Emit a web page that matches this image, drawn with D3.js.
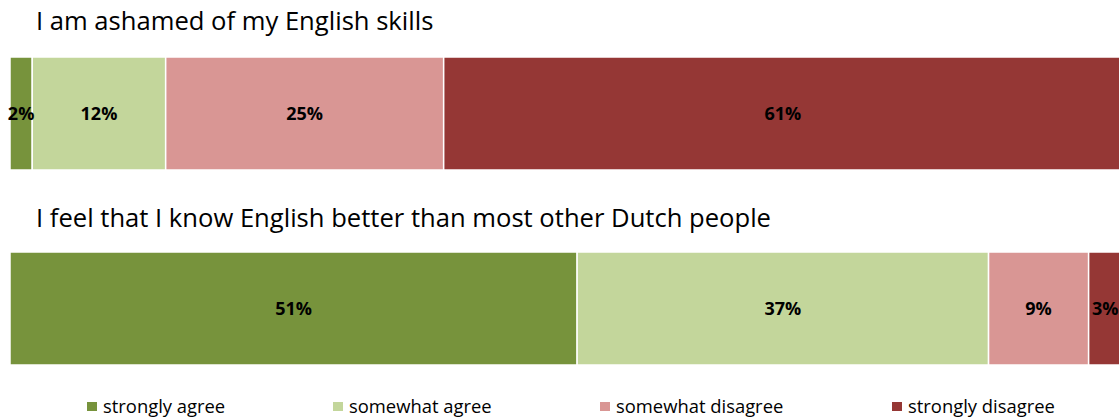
<!DOCTYPE html>
<html>
<head>
<meta charset="utf-8">
<script src="https://cdn.jsdelivr.net/npm/d3@7"></script>
<style>
  html, body { margin: 0; padding: 0; background: #fff; }
  svg { display: block; }
</style>
</head>
<body>
<svg id="chart" width="1119" height="419"></svg>
<script>
// Survey statements and answer shares (percent)
const statements = [
  "I am ashamed of my English skills",
  "I feel that I know English better than most other Dutch people"
];
const answers = ["strongly agree", "somewhat agree", "somewhat disagree", "strongly disagree"];
const ashamedValues = [2, 12, 25, 61];
const betterValues = [51, 37, 9, 3];
const colors = ["#77933C", "#C3D69B", "#D99694", "#953735"];

const seriesValues = [ashamedValues, betterValues];

const svg = d3.select("#chart");
const fontFamily = "'Open Sans', 'Noto Sans', sans-serif";

const x = d3.scaleLinear().domain([0, 100]).range([10, 1122]);
const panelTop = [57, 252];
const barHeight = 113;
const titleBaseline = [30, 227];

const color = d3.scaleOrdinal().domain(answers).range(colors);

seriesValues.forEach((vals, i) => {
  const g = svg.append("g");
  g.append("text")
    .attr("x", 36)
    .attr("y", titleBaseline[i])
    .attr("font-family", fontFamily)
    .attr("font-size", 25.6)
    .attr("fill", "#000")
    .text(statements[i]);

  let acc = 0;
  const segs = vals.map((v, k) => {
    const s = { key: answers[k], start: acc, value: v };
    acc += v;
    return s;
  });

  g.selectAll("rect.seg")
    .data(segs)
    .enter().append("rect")
    .attr("class", "seg")
    .attr("x", d => x(d.start))
    .attr("y", panelTop[i])
    .attr("width", d => x(d.start + d.value) - x(d.start))
    .attr("height", barHeight)
    .attr("fill", d => color(d.key))
    .attr("stroke", "#fff")
    .attr("stroke-width", 1.5);

  g.selectAll("text.lbl")
    .data(segs)
    .enter().append("text")
    .attr("class", "lbl")
    .attr("x", d => (x(d.start) + x(d.start + d.value)) / 2)
    .attr("y", panelTop[i] + barHeight / 2)
    .attr("dy", "0.35em")
    .attr("text-anchor", "middle")
    .attr("font-family", fontFamily)
    .attr("font-weight", "bold")
    .attr("font-size", 18)
    .attr("fill", "#000")
    .text(d => d.value + "%");
});

// Legend
const legendX = [87, 333, 600, 892];
const legend = svg.append("g");
answers.forEach((a, k) => {
  legend.append("rect")
    .attr("x", legendX[k])
    .attr("y", 402)
    .attr("width", 10)
    .attr("height", 9)
    .attr("fill", color(a));
  legend.append("text")
    .attr("x", legendX[k] + 16)
    .attr("y", 413)
    .attr("font-family", fontFamily)
    .attr("font-size", 18.4)
    .attr("fill", "#000")
    .text(a);
});
</script>
</body>
</html>
